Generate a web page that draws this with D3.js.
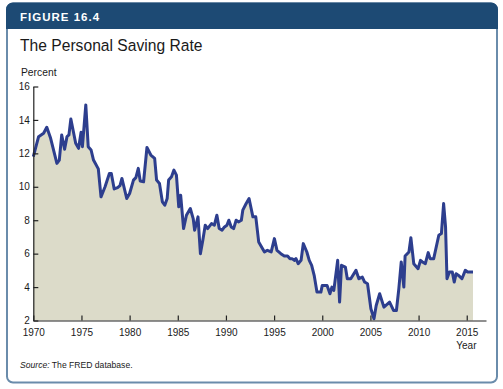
<!DOCTYPE html>
<html>
<head>
<meta charset="utf-8">
<script src="https://cdn.jsdelivr.net/npm/d3@7/dist/d3.min.js"></script>
<style>
html,body{margin:0;padding:0;background:#fff;}
svg{display:block;}
text{font-family:"Liberation Sans",Arial,sans-serif;}
</style>
</head>
<body>
<svg id="chart" width="503" height="389"></svg>
<script>
// Data (decimal year, percent)
const years = [1970.0,1970.55,1971.07,1971.4,1971.8,1972.45,1972.7,1972.95,1973.25,1973.5,1973.7,1973.9,1974.4,1974.7,1974.96,1975.1,1975.45,1975.7,1976.0,1976.25,1976.75,1977.03,1977.45,1977.9,1978.1,1978.4,1978.75,1979.0,1979.2,1979.7,1980.0,1980.4,1980.65,1980.9,1981.1,1981.45,1981.8,1982.2,1982.6,1982.8,1983.1,1983.4,1983.65,1983.9,1984.05,1984.35,1984.6,1984.86,1985.1,1985.3,1985.6,1985.9,1986.3,1986.6,1986.75,1987.1,1987.35,1987.6,1987.85,1988.1,1988.5,1988.8,1989.06,1989.3,1989.6,1989.85,1990.1,1990.3,1990.55,1990.8,1991.06,1991.3,1991.6,1991.75,1992.1,1992.4,1992.8,1993.1,1993.4,1994.0,1994.3,1994.7,1995.03,1995.3,1995.7,1996.06,1996.4,1996.65,1996.86,1997.1,1997.27,1997.5,1997.8,1998.03,1998.4,1998.65,1998.9,1999.16,1999.45,1999.86,2000.0,2000.5,2000.8,2001.0,2001.2,2001.6,2001.8,2002.0,2002.4,2002.6,2002.96,2003.5,2003.8,2004.16,2004.4,2004.7,2005.05,2005.37,2005.6,2005.96,2006.4,2006.99,2007.4,2007.7,2007.95,2008.2,2008.47,2008.6,2009.0,2009.2,2009.5,2009.95,2010.2,2010.4,2010.7,2011.0,2011.2,2011.57,2012.1,2012.37,2012.6,2012.8,2012.95,2013.2,2013.5,2013.7,2013.9,2014.15,2014.5,2014.85,2015.1,2015.4,2015.65];
const rates = [11.8,13.0,13.2,13.56,12.9,11.4,11.6,13.1,12.25,13.0,13.1,14.06,12.6,12.3,13.26,12.4,14.9,12.4,12.2,11.6,11.07,9.4,10.0,10.8,10.8,9.87,9.95,10.07,10.5,9.3,9.6,10.4,10.55,11.1,10.35,10.3,12.35,11.9,11.7,10.4,10.2,9.1,8.9,9.3,10.4,10.6,11.0,10.7,8.8,9.5,7.5,8.3,8.7,8.1,7.4,8.2,6.0,6.8,7.7,7.5,7.8,7.7,8.3,7.5,7.4,7.6,7.7,8.0,7.6,7.5,8.0,7.9,8.0,8.6,9.0,9.3,8.2,8.2,6.7,6.1,6.2,6.1,6.9,6.2,6.0,5.86,5.86,5.7,5.7,5.6,5.7,5.4,5.6,6.6,6.1,5.6,5.3,4.7,3.7,3.7,4.1,4.1,3.6,4.0,3.8,5.6,3.1,5.3,5.2,4.5,4.5,5.0,4.5,4.6,4.3,4.2,2.7,2.1,2.9,3.6,2.8,3.1,2.6,2.6,3.9,5.5,4.0,5.86,6.1,6.95,5.4,5.1,5.6,5.5,5.4,6.06,5.7,5.7,7.1,7.2,9.0,7.6,4.5,4.9,4.9,4.3,4.8,4.7,4.5,5.0,4.9,4.9,4.9];
const xTicks = [1970,1975,1980,1985,1990,1995,2000,2005,2010,2015];
const yTicks = [2,4,6,8,10,12,14,16];

const data = years.map((y,i)=>({year:y, rate:rates[i]}));
const svg = d3.select("#chart");

// Frame
svg.append("rect").attr("x",7).attr("y",3.5).attr("width",490).attr("height",379)
  .attr("rx",6).attr("fill","#fff").attr("stroke","#6a8cab").attr("stroke-width",2);
// Header band
const hdr = d3.path();
hdr.moveTo(7,28); hdr.lineTo(7,9.5); hdr.arcTo(7,3.5,13,3.5,6); hdr.lineTo(491,3.5);
hdr.arcTo(497,3.5,497,9.5,6); hdr.lineTo(497,28); hdr.closePath();
svg.append("path").attr("d",hdr.toString()).attr("fill","#1d4a74").attr("stroke","#1d4a74").attr("stroke-width",2);
svg.append("text").attr("x",20).attr("y",20.5).attr("fill","#fff")
  .attr("font-size",11.5).attr("font-weight","bold").attr("letter-spacing",1.0).text("FIGURE 16.4");

svg.append("text").attr("transform","translate(20,50.5) scale(0.92,1)").attr("fill","#1a1a1a")
  .attr("font-size",17).text("The Personal Saving Rate");
svg.append("text").attr("x",21).attr("y",76).attr("fill","#1a1a1a")
  .attr("font-size",10.3).text("Percent");

const x = d3.scaleLinear().domain([1970,2017]).range([33.3,486]);
const y = d3.scaleLinear().domain([2,16]).range([320.5,86.5]);

const area = d3.area().x(d=>x(d.year)).y0(y(2)).y1(d=>y(d.rate));
const line = d3.line().x(d=>x(d.year)).y(d=>y(d.rate));

svg.append("path").datum(data).attr("d",area).attr("fill","#dcdbc9");
svg.append("path").datum(data).attr("d",line).attr("fill","none")
  .attr("stroke","#2d3e8e").attr("stroke-width",3).attr("stroke-linejoin","round");

// Axes
const xAxis = d3.axisBottom(x).tickValues(xTicks).tickFormat(d3.format("d")).tickSizeInner(-5).tickSizeOuter(0).tickPadding(8);
const gx = svg.append("g").attr("transform",`translate(0,${y(2)})`).call(xAxis);
gx.select(".domain").attr("stroke","#222").attr("stroke-width",1.2);
gx.selectAll(".tick line").attr("stroke","#222").attr("stroke-width",1.2);
gx.selectAll(".tick text").attr("font-size",10).attr("fill","#1a1a1a").attr("font-family","Liberation Sans, Arial, sans-serif");

const yAxis = d3.axisLeft(y).tickValues(yTicks).tickSizeInner(-5).tickSizeOuter(0).tickPadding(3.5);
const gy = svg.append("g").attr("transform",`translate(${x(1970)},0)`).call(yAxis);
gy.select(".domain").attr("stroke","#222").attr("stroke-width",1.2);
gy.selectAll(".tick line").attr("stroke","#222").attr("stroke-width",1.2);
gy.selectAll(".tick text").attr("font-size",10).attr("fill","#1a1a1a").attr("font-family","Liberation Sans, Arial, sans-serif");

svg.append("text").attr("x",476.5).attr("y",348.5).attr("text-anchor","end")
  .attr("font-size",10).attr("fill","#1a1a1a").text("Year");

const src = svg.append("text").attr("x",20).attr("y",367.5).attr("font-size",8.6).attr("fill","#1a1a1a");
src.append("tspan").attr("font-style","italic").text("Source:");
src.append("tspan").text(" The FRED database.");
</script>
</body>
</html>
